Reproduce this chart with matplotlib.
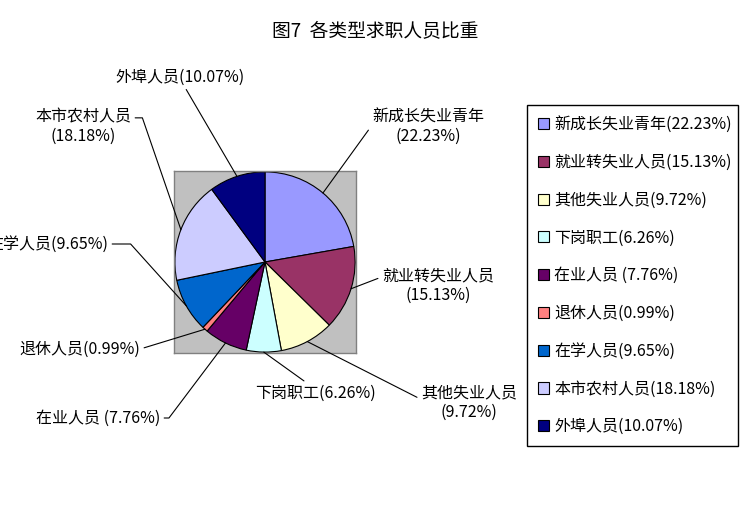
import matplotlib
matplotlib.use("Agg")
import matplotlib.pyplot as plt
import numpy as np

plt.rcParams["font.family"] = ["Noto Sans CJK SC", "DejaVu Sans"]

# ---- data ----
TITLE = "图7  各类型求职人员比重"
CATEGORIES = ["新成长失业青年", "就业转失业人员", "其他失业人员", "下岗职工", "在业人员",
              "退休人员", "在学人员", "本市农村人员", "外埠人员"]
SHARES = [22.23, 15.13, 9.72, 6.26, 7.76, 0.99, 9.65, 18.18, 10.07]
COLORS = ["#9999FF", "#993366", "#FFFFCC", "#CCFFFF", "#660066",
          "#FF8080", "#0066CC", "#CCCCFF", "#000080"]
# separator between name and percentage in the pie labels / legend
LABEL_SEP = ["\n", "\n", "\n", "", " ", "", "", "\n", ""]
LEGEND_SEP = ["", "", "", "", " ", "", "", "", ""]

# ---- layout (image pixels, origin top-left) ----
W, H = 751, 505
FS = 11.5
# text anchor x, y, ha, relpos of leader on text box, angleB of elbow (None = straight)
LABEL_POS = [
    (428, 127, "center", (0.0, 0.55), None),
    (438, 286, "center", (0.0, 0.75), None),
    (469, 403, "center", (0.0, 0.6), None),
    (315, 393, "center", (0.45, 1.0), None),
    (160, 418, "right", (1.0, 0.5), 53),
    (140, 349, "right", (1.0, 0.5), 17),
    (108, 244, "right", (1.0, 0.5), -48),
    (83, 127, "center", (1.0, 0.75), -71),
    (180, 77, "center", (0.53, 0.0), None),
]


def pct(v):
    return f"({v:.2f}%)"


fig = plt.figure(figsize=(W / 100, H / 100), dpi=100)
fig.patch.set_facecolor("white")

fig.text(375 / W, 1 - 32 / H, TITLE, ha="center", va="center",
         fontsize=13.5, fontweight="medium")

# pie sits inside a grey plot area
ax = fig.add_axes([174 / W, 1 - 353 / H, 182 / W, 182 / H])
wedges, _ = ax.pie(SHARES, colors=COLORS, startangle=90, counterclock=False,
                   radius=1, frame=True,
                   wedgeprops=dict(edgecolor="black", linewidth=0.8))
ax.set_xlim(-1.01, 1.01)
ax.set_ylim(-1.01, 1.01)
ax.set_facecolor("#C0C0C0")
ax.set_xticks([])
ax.set_yticks([])
for sp in ax.spines.values():
    sp.set_color("#808080")
    sp.set_linewidth(1)

for w, name, v, sep, (tx, ty, ha, rel, angb) in zip(wedges, CATEGORIES, SHARES, LABEL_SEP, LABEL_POS):
    theta = np.deg2rad((w.theta1 + w.theta2) / 2)
    xy = (np.cos(theta), np.sin(theta))
    props = dict(arrowstyle="-", color="black", lw=0.8, shrinkA=1, shrinkB=0, relpos=rel)
    if angb is not None:
        props["connectionstyle"] = f"angle,angleA=0,angleB={angb},rad=0"
    ax.annotate(name + sep + pct(v), xy=xy, xycoords="data",
                xytext=(tx, H - ty), textcoords="figure pixels",
                ha=ha, va="center", multialignment="center", fontsize=FS,
                arrowprops=props, annotation_clip=False)

legend_labels = [n + s + pct(v) for n, s, v in zip(CATEGORIES, LEGEND_SEP, SHARES)]
leg = fig.legend(wedges, legend_labels, loc="upper left",
                 bbox_to_anchor=(527 / W, 1 - 447 / H, 211 / W, 342 / H), mode="expand",
                 frameon=True, fancybox=False, edgecolor="black", framealpha=1,
                 fontsize=FS, handlelength=0.7, handleheight=0.7, handletextpad=0.3,
                 labelspacing=1.3, borderpad=0.7, borderaxespad=0)
leg.get_frame().set_linewidth(1)

fig.savefig("out.png", dpi=100)
